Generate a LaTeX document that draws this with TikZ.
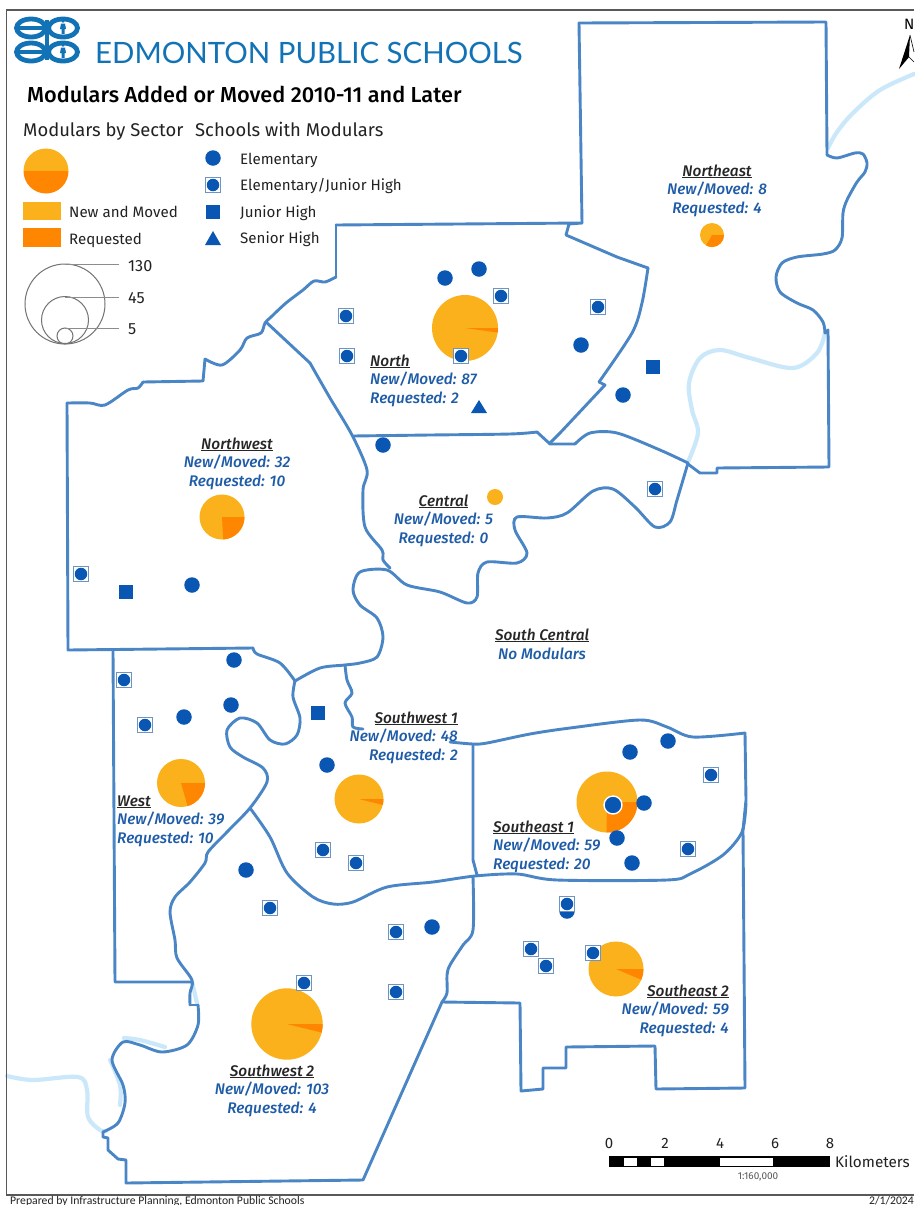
\documentclass[tikz,border=0pt]{standalone}
\usepackage{fontspec}
\setmainfont{Fira Sans}
\newfontfamily\labfont{Fira Sans Medium}[ItalicFont={Fira Sans Medium Italic},BoldFont={Fira Sans Medium}]
\newfontfamily\logofont{Lato}
\newfontfamily\footfont{Carlito}
\definecolor{bndc}{HTML}{4A86C5}
\definecolor{rivc}{HTML}{CBE8FA}
\definecolor{schc}{HTML}{0A57B3}
\definecolor{sqc}{HTML}{6D95C2}
\definecolor{labc}{HTML}{1F5CA8}
\definecolor{pieY}{HTML}{FBB11C}
\definecolor{pieO}{HTML}{FF8600}
\definecolor{logoc}{HTML}{1173B6}
\definecolor{legtx}{HTML}{222222}
\tikzset{
  bnd/.style={draw=bndc,line width=2.9pt,line join=round,line cap=round},
  riv/.style={draw=rivc,line width=4.2pt,line join=round,line cap=round},
  elemdot/.style={circle,fill=schc,inner sep=0pt,minimum size=15.5pt},
  ejsq/.style={rectangle,draw=sqc,line width=1pt,fill=white,inner sep=0pt,minimum size=15pt},
  ejdot/.style={circle,fill=schc,inner sep=0pt,minimum size=12.5pt},
  jrsq/.style={rectangle,fill=schc,inner sep=0pt,minimum size=14pt},
  legtext/.style={inner sep=0pt,text=legtx,font=\fontsize{15.1}{18}\selectfont},
  sizetext/.style={inner sep=0pt,text=legtx,font=\fontsize{16.2}{18}\selectfont},
  seclab/.style={inner sep=0pt,text=labc,font=\labfont\itshape\fontsize{15.4}{18}\selectfont},
  sechead/.style={inner sep=0pt,text=black!85,font=\labfont\itshape\fontsize{15.4}{18}\selectfont},
  sizec/.style={draw=black!55,line width=1pt},
  logoln/.style={draw=logoc,line width=4.8pt},
  scalenum/.style={inner sep=0pt,text=legtx,font=\fontsize{15}{18}\selectfont}
}
\newcommand\riverline[1]{\draw[riv] plot[smooth,tension=0.55] coordinates {#1};}
\newcommand\curveline[1]{\draw[bnd] plot[smooth,tension=0.5] coordinates {#1};}
\newcommand\secpie[4]{%
  \fill[pieY] (#1,#2) circle[radius=#3];
  \fill[pieO] (#1,#2) -- ++(0:#3) arc[start angle=0,end angle=#4,radius=#3] -- cycle;}
\newcommand\seclabel[7]{%
  \node[sechead,anchor=#2] (#1h) at (#3,#4) {\underline{#5}};
  \node[seclab,anchor=#2] (#1a) at (#3,#4+18.4) {#6};
  \node[seclab,anchor=#2] (#1b) at (#3,#4+37) {#7};}
\begin{document}
\begin{tikzpicture}[x=1pt,y=-1pt]
\useasboundingbox (0,0) rectangle (914,1205);
\fill[white] (0,0) rectangle (914,1205);

% rivers
\riverline{(914,74)(880,90)(853,113)(837,132)(828,148)}
\riverline{(825,333)(817,353)(793,368)(750,358)(720,350)(700,358)(689,383)(692,410)(698,433)(688,462)}
\riverline{(7,1076)(33,1080)(78,1077)(87,1090)(88,1117)(100,1130)(106,1131)}
\riverline{(192,982)(197,1003)}
\riverline{(124,1038)(140,1040)(165,1047)}
\riverline{(110,1060)(120,1085)(120,1105)}

% sector boundaries
\draw[bnd] (582,223) -- (579,23) -- (826,22) -- (827,155);
\curveline{(827,155)(837,158)(855,153)(863,154)(867,163)(865,172)(857,182)(847,200)(843,213)(842,238)(835,250)(823,254)(797,257)(782,263)(776,277)(780,292)(797,303)(813,310)(823,322)(825,333)}
\draw[bnd] (825,333) -- (828,330) -- (829,467) -- (717,468) -- (717,473) -- (700,473) -- (688,464);
\draw[bnd] (336,225) -- (582,223) -- (569,224) -- (566,235) -- (617,257) -- (648,268);
\curveline{(648,268)(642,303)(632,333)(599,382)}
\draw[bnd] (599,382) -- (605,385) -- (560,433) -- (550,443);
\curveline{(353,436)(430,435)(510,434)(537,432)}
\draw[bnd] (537,432) -- (550,444) -- (575,444);
\curveline{(575,444)(590,433)(617,433)(660,450)(688,463)}
\curveline{(688,463)(677,500)(670,522)(655,527)(635,507)(613,489)(593,491)(567,513)(547,518)(517,517)(515,530)(527,553)(517,563)(487,562)(478,573)(477,597)(467,603)(440,592)(407,585)(387,570)(360,572)(353,590)(360,605)(377,618)(383,637)(377,657)(360,663)(345,665)(320,668)(295,681)}
\draw[bnd] (336,225) -- (336,277);
\curveline{(336,277)(325,282)(314,281)(303,290)(286,303)(271,317)(265,323)(261,333)(247,338)(240,350)(222,365)(205,359)}
\draw[bnd] (205,359) -- (203,381) -- (143,382);
\curveline{(143,382)(138,388)(128,390)(105,405)(90,403)(67,403)}
\draw[bnd] (67,403) -- (68,650) -- (253,648);
\curveline{(253,648)(257,654)(280,663)(295,681)}
\draw[bnd] (266,322) -- (310,363);
\curveline{(310,363)(330,398)(352,435)(367,470)(363,490)(365,527)(382,550)(383,560)(390,568)}
\draw[bnd] (113,650) -- (115,982) -- (192,982);
\curveline{(295,681)(293,697)(300,718)(297,735)(285,744)(270,740)(257,723)(240,718)(227,730)(230,747)(243,757)(263,768)(267,782)(250,808)(227,832)(208,852)(205,863)(190,882)(175,897)(170,912)(175,940)(177,958)(192,980)(190,993)(190,1005)}
\draw[bnd] (190,1005) -- (198,1005);
\curveline{(198,1005)(198,1025)(187,1045)(162,1052)(140,1045)(123,1042)(112,1060)(123,1085)(125,1103)(118,1123)(103,1132)}
\draw[bnd] (103,1132) -- (103,1137) -- (108,1138) -- (108,1150) -- (118,1159) -- (126,1160) -- (126,1183) -- (363,1180) -- (442,1002) -- (520,1003) -- (521,1091) -- (543,1089) -- (543,1068) -- (566,1068) -- (566,1047) -- (655,1046) -- (656,1089) -- (745,1088) -- (743,830) -- (746,800) -- (745,733);
\curveline{(345,665)(347,680)(352,693)(345,703)(352,717)(353,727)(363,729)}
\curveline{(450,742)(473,744)(487,743)(530,734)(570,728)(640,720)(667,727)(693,737)(745,733)}
\draw[bnd] (473,745) -- (473,860) -- (477,875);
\curveline{(473,877)(473,930)(463,945)(450,965)(447,975)(447,993)(442,1002)}
\curveline{(250,808)(270,837)(287,873)(313,897)(333,904)(353,902)(387,887)(433,882)(475,876)(517,874)(557,880)(667,880)(690,874)(723,855)(742,832)(746,803)}

% pies
\secpie{712}{235}{12}{120}
\secpie{465}{328}{33}{8}
\fill[pieY] (495,497) circle[radius=8];
\secpie{222}{517}{22.5}{87}
\secpie{181}{783}{24}{74}
\secpie{359}{799}{24.5}{14}
\secpie{607}{802}{30.5}{91}
\secpie{616}{969}{27.5}{23}
\secpie{287}{1024}{35.7}{14}

% schools
\foreach \px/\py [count=\i] in {445/278,479/269,581/345,623/395,383/445,192/585,234/660,231/705,184/717,327/765,246/870,432/927,630/752,668/741,644/803,617/838,632/863,567/911}{
  \node[elemdot] (el\i) at (\px,\py) {};}
\node[elemdot,draw=white,line width=1.4pt,minimum size=18pt] (elhalo) at (613,805) {};
\foreach \px/\py [count=\i] in {346/316,347/356,501/296,598/307,461/356,655/489,81/574,124/680,145/725,323/850,356/863,270/908,396/932,396/992,304/983,711/775,688/849,567/904,531/949,546/966,593/953}{
  \node[ejsq] (ej\i) at (\px,\py) {};
  \node[ejdot] (ed\i) at (\px,\py) {};}
\foreach \px/\py [count=\i] in {653/367,126/592,318/713}{
  \node[jrsq] (jr\i) at (\px,\py) {};}
\fill[schc] (479,400) -- (487,413) -- (471,413) -- cycle;

% labels
\seclabel{ne}{base}{717}{176}{Northeast}{New/Moved: 8}{Requested: 4}
\seclabel{n}{base west}{370}{366}{North}{New/Moved: 87}{Requested: 2}
\seclabel{nw}{base}{237}{449}{Northwest}{New/Moved: 32}{Requested: 10}
\seclabel{c}{base}{443.5}{506}{Central}{New/Moved: 5}{Requested: 0}
\node[sechead,anchor=base] (sch) at (542,640) {\underline{South Central}};
\node[seclab,anchor=base] (sca) at (542,659) {No Modulars};
\seclabel{swa}{base east}{458}{723}{Southwest 1}{New/Moved: 48}{Requested: 2}
\seclabel{w}{base west}{117}{806}{West}{New/Moved: 39}{Requested: 10}
\seclabel{sea}{base west}{493}{832}{Southeast 1}{New/Moved: 59}{Requested: 20}
\seclabel{seb}{base east}{729}{996}{Southeast 2}{New/Moved: 59}{Requested: 4}
\seclabel{swb}{base}{272}{1076}{Southwest 2}{New/Moved: 103}{Requested: 4}

% frame
\draw[black!65,line width=1.4pt] (914,10) -- (6.5,10) -- (6.5,1195) -- (914,1195);

% logo
\draw[logoln] (31,28) ellipse[x radius=14.5,y radius=9];
\draw[logoln] (31,52) ellipse[x radius=14.5,y radius=9];
\draw[logoln] (63,28) ellipse[x radius=14.5,y radius=9];
\draw[logoln] (63,52) ellipse[x radius=14.5,y radius=9];
\draw[logoc,line width=3.6pt] (15,28) -- (44,28);
\draw[logoc,line width=3.6pt] (15,52) -- (44,52);
\draw[logoc,line width=3.4pt] (47,20) -- (47,60);
\foreach \ly in {28,52}{
  \fill[logoc] (63,\ly-6.5) circle[radius=1.4];
  \fill[logoc] (61,\ly-4.5) -- (65,\ly-4.5) -- (66,\ly+1) -- (64.5,\ly+1) -- (64.5,\ly+6) -- (61.5,\ly+6) -- (61.5,\ly+1) -- (60,\ly+1) -- cycle;}
\node[anchor=base west,inner sep=0pt,text=logoc,font=\logofont\fontsize{29.4}{30}\selectfont] (logotext) at (95,63) {EDMONTON PUBLIC SCHOOLS};

% title and legend
\node[anchor=base west,inner sep=0pt,font=\labfont\fontsize{21.7}{24}\selectfont] (title) at (27,102) {Modulars Added or Moved 2010-11 and Later};
\node[legtext,anchor=base west,font=\fontsize{18.4}{20}\selectfont] (lh1) at (23,136) {Modulars by Sector};
\node[legtext,anchor=base west,font=\fontsize{18.4}{20}\selectfont] (lh2) at (195,136) {Schools with Modulars};
\fill[pieY] (23.5,171) arc[start angle=180,end angle=360,radius=22.5] -- cycle;
\fill[pieO] (23.5,171) arc[start angle=180,end angle=0,radius=22.5] -- cycle;
\fill[pieY] (23,202) rectangle (61,220);
\fill[pieO] (23,228) rectangle (61,247);
\node[legtext,anchor=base west] (lnm) at (69,217) {New and Moved};
\node[legtext,anchor=base west] (lrq) at (69,244) {Requested};
\node[elemdot] (lse) at (213,158) {};
\node[ejsq] (lsq) at (213,185) {};
\node[ejdot] (lsd) at (213,185) {};
\node[jrsq] (lsj) at (213,212) {};
\fill[schc] (213,231) -- (221,245) -- (205,245) -- cycle;
\node[legtext,anchor=base west] (lte) at (240,164) {Elementary};
\node[legtext,anchor=base west] (ltj) at (240,190) {Elementary/Junior High};
\node[legtext,anchor=base west] (ltk) at (240,217) {Junior High};
\node[legtext,anchor=base west] (lts) at (240,243) {Senior High};
\draw[sizec] (65,304) circle[radius=40];
\draw[sizec] (65,320) circle[radius=23.5];
\draw[sizec] (65,336) circle[radius=8];
\draw[black!45,line width=0.8pt] (65,264) -- (119,264);
\draw[black!45,line width=0.8pt] (65,297) -- (119,297);
\draw[black!45,line width=0.8pt] (65,328) -- (119,328);
\node[sizetext,anchor=base west] (s130) at (128,271) {130};
\node[sizetext,anchor=base west] (s45) at (128,303) {45};
\node[sizetext,anchor=base west] (s5) at (128,334) {5};

% north arrow
\node[anchor=base west,inner sep=0pt,font=\fontsize{15}{16}\selectfont] (northn) at (904,29) {N};
\fill[black] (910,35) -- (909,57) -- (899,69) -- cycle;
\draw[black,line width=0.6pt] (910,35) -- (914,52);
\draw[black,line width=0.6pt] (909,57) -- (914,62);

% scale bar
\fill[black] (609,1156) rectangle (830,1167);
\fill[white] (624,1157.5) rectangle (637,1165.5);
\fill[white] (651,1157.5) rectangle (664,1165.5);
\fill[white] (720,1157.5) rectangle (773,1165.5);
\foreach \sx/\st [count=\i] in {609/0,665/2,720/4,775/6,830/8}{
  \node[scalenum,anchor=base] (sc\i) at (\sx,1148) {\st};}
\node[anchor=base west,inner sep=0pt,text=legtx,font=\fontsize{15.3}{18}\selectfont] (kmt) at (835,1167) {Kilometers};
\node[anchor=base,inner sep=0pt,text=black!65,font=\fontsize{10}{12}\selectfont] (ratio) at (758,1179) {1:160,000};

% footer
\node[anchor=base west,inner sep=0pt,text=legtx,font=\footfont\fontsize{11.7}{12}\selectfont] (foot) at (10,1204) {Prepared by Infrastructure Planning, Edmonton Public Schools};
\node[anchor=base east,inner sep=0pt,text=legtx,font=\footfont\fontsize{11.7}{12}\selectfont] (fdate) at (914,1204) {2/1/2024};
\end{tikzpicture}
\end{document}
